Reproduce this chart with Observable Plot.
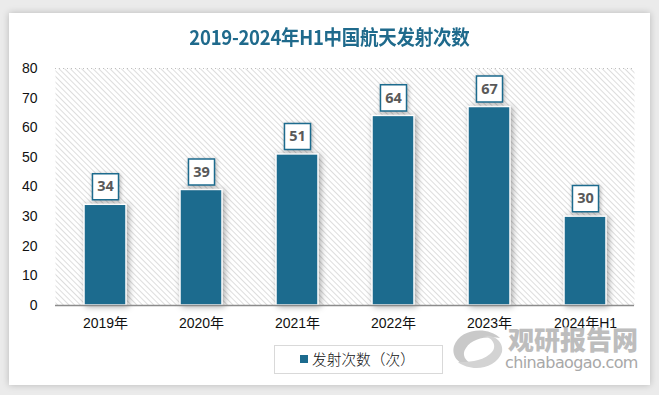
<!DOCTYPE html>
<html>
<head>
<meta charset="utf-8">
<script src="https://cdn.jsdelivr.net/npm/d3@7"></script>
<script src="https://cdn.jsdelivr.net/npm/@observablehq/plot@0.6"></script>
<style>
  html, body { margin: 0; padding: 0; }
  body { width: 659px; height: 395px; background: #ebebeb; position: relative; overflow: hidden; font-family: "Noto Sans CJK SC", sans-serif; }
  #card { position: absolute; left: 9px; top: 13px; width: 641px; height: 372px; background: #fff; box-shadow: 0 0 7px rgba(0,0,0,0.22); }
  #title { position: absolute; left: 0; width: 659px; top: 22px; text-align: center; }
  #title span { display: inline-block; transform: scaleX(0.925); font-size: 20px; font-weight: bold; color: #1f6a8c; font-family: "Liberation Sans Narrow", "Noto Sans CJK SC", sans-serif; letter-spacing: -0.3px; white-space: nowrap; }
  #chart { position: absolute; left: 0; top: 50px; }
  .bars rect { filter: drop-shadow(2px 1px 3px rgba(0,0,0,0.35)); }
  .boxes path { filter: drop-shadow(1px 1px 2px rgba(0,0,0,0.3)); }
  #legend { position: absolute; left: 274px; top: 345px; width: 167px; height: 27px; border: 1px solid #d9d9d9; background: #fff; }
  #legend .sw { position: absolute; left: 25px; top: 9px; width: 8px; height: 8px; background: #1c6b8e; }
  #legend .lb { position: absolute; left: 37px; top: 3px; font-size: 14.7px; line-height: 20px; color: #111; font-weight: 300; white-space: nowrap; }
  #wm1 { position: absolute; left: 508px; top: 326px; font-size: 26px; line-height: 26px; font-weight: 900; color: #bdbdbd; white-space: nowrap; }
  #wm2 { position: absolute; left: 505px; top: 355px; font-size: 16px; line-height: 16px; color: #a8a8a8; font-family: "DejaVu Sans", sans-serif; white-space: nowrap; letter-spacing: -0.6px; }
  #logo { position: absolute; left: 448px; top: 324px; }
</style>
</head>
<body>
<div id="card"></div>
<div id="title"><span>2019-2024年H1中国航天发射次数</span></div>
<div id="chart"></div>
<svg id="logo" width="60" height="50" viewBox="0 0 60 50">
  <path d="M52 14 C40 2 12 4 6 22 C2 36 18 46 32 40 C20 42 12 32 18 24 C24 14 40 12 52 14 Z" fill="#c9c9c9"/>
  <path d="M10 38 C22 48 48 46 54 28 C56 18 46 10 36 12 C46 14 50 24 42 30 C32 38 20 38 10 38 Z" fill="#d3d3d3"/>
</svg>
<div id="wm1">观研报告网</div>
<div id="wm2">chinabaogao.com</div>
<div id="legend"><div class="sw"></div><div class="lb">发射次数（次）</div></div>
<script>
const years = ["2019年", "2020年", "2021年", "2022年", "2023年", "2024年H1"];
const launches = [34, 39, 51, 64, 67, 30];
const yTicks = [0, 10, 20, 30, 40, 50, 60, 70, 80];

const data = years.map((y, i) => ({year: y, value: launches[i]}));
const barColor = "#1c6b8e";

const plot = Plot.plot({
  width: 659,
  height: 290,
  marginTop: 18,
  marginBottom: 35,
  marginLeft: 55,
  marginRight: 25,
  style: {fontFamily: "'Liberation Sans', 'Noto Sans CJK SC', sans-serif", fontSize: "14px", color: "#111", background: "transparent"},
  x: {domain: years, paddingInner: 0.565, paddingOuter: 0.2825, label: null, tickSize: 0, tickPadding: 13},
  y: {domain: [0, 80], ticks: yTicks, label: null, tickSize: 0, tickPadding: 18},
  marks: [
    Plot.frame({fill: "url(#hatch)", stroke: null}),
    Plot.gridY([80], {stroke: "#bfbfbf", strokeOpacity: 1, strokeDasharray: "1,3"}),
    Plot.barY(data, {x: "year", y: "value", fill: barColor, stroke: "white", strokeWidth: 1.5, className: "bars"}),
    Plot.ruleY([0], {stroke: "#8c8c8c", strokeWidth: 1.5}),
    Plot.dot(data, {x: "year", y: "value", symbol: "square", r: 14.7, dy: -18, fill: "white", stroke: barColor, strokeWidth: 1.5, className: "boxes"}),
    Plot.text(data, {x: "year", y: "value", text: d => String(d.value), dy: -18, fontSize: 14.5, fontWeight: "bold", fill: "#595959", fontFamily: "'Open Sans', sans-serif"})
  ]
});

const svgNS = "http://www.w3.org/2000/svg";
const defs = document.createElementNS(svgNS, "defs");
defs.innerHTML = '<pattern id="hatch" patternUnits="userSpaceOnUse" width="4" height="4" patternTransform="rotate(-45)">' +
  '<rect width="4" height="4" fill="#ffffff"/><line x1="0" y1="0" x2="0" y2="4" stroke="#cfcfcf" stroke-width="1.4"/></pattern>';
plot.insertBefore(defs, plot.firstChild);
document.getElementById("chart").appendChild(plot);
</script>
</body>
</html>
